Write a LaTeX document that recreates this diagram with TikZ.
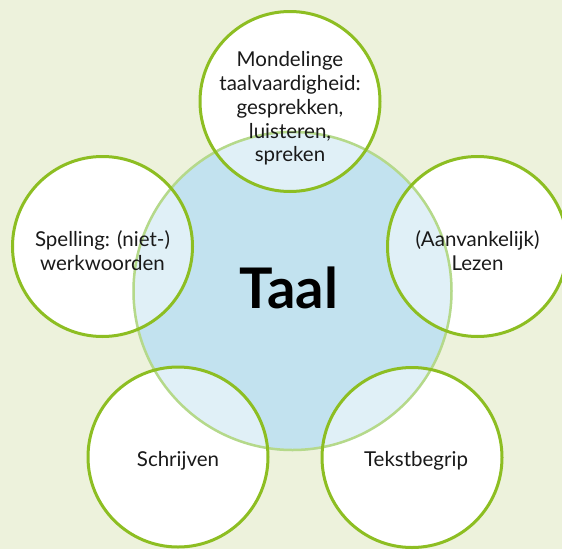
\documentclass[tikz,border=0pt]{standalone}
\usepackage{fontspec}
\setmainfont{Lato}
\definecolor{bgc}{HTML}{EDF2DC}
\definecolor{bluec}{HTML}{C2E2EF}
\definecolor{ringc}{HTML}{8DBE22}
\definecolor{cringc}{HTML}{B5D98A}
\definecolor{txtc}{HTML}{1A1A1A}
\begin{document}
\begin{tikzpicture}[x=1pt,y=-1pt,
  outer/.style={circle,minimum size=181pt,inner sep=0pt,fill=white},
  ring/.style={draw=ringc,line width=3pt},
  lbl/.style={align=center,text=txtc,font=\fontsize{20.5}{23.8}\selectfont},
]
\useasboundingbox (0,0) rectangle (562,549);
\fill[bgc] (0,0) rectangle (562,549);
% outer circles (white fill)
\node[outer] (top) at (290,101.5) {};
\node[outer] (left) at (102.5,246.5) {};
\node[outer] (right) at (477.5,246.5) {};
\node[outer] (bl) at (178,457) {};
\node[outer] (br) at (412,457.5) {};
% central circle
\node[circle,minimum size=320pt,inner sep=0pt,fill=bluec] (taal) at (292.5,291) {};
% translucent white overlap
\foreach \c in {top,left,right,bl,br}{
  \fill[white,opacity=0.5] (\c.center) circle[radius=90.5pt];
}
% central border
\draw[cringc,line width=2.5pt] (taal.center) circle[radius=159pt];
% outer borders
\foreach \c in {top,left,right,bl,br}{
  \draw[ring] (\c.center) circle[radius=90pt];
}
% labels
\node[lbl] (ltop) at ([yshift=-7pt]top.center) {Mondelinge\\taalvaardigheid:\\gesprekken,\\luisteren,\\spreken};
\node[lbl] (lleft) at ([yshift=-4pt]left.center) {Spelling: (niet-)\\werkwoorden};
\node[lbl] (lright) at ([yshift=-4.5pt]right.center) {(Aanvankelijk)\\Lezen};
\node[lbl] (lbl) at ([yshift=-3.5pt]bl.center) {Schrijven};
\node[lbl] (lbr) at ([xshift=4pt,yshift=-3pt]br.center) {Tekstbegrip};
\node[text=black,font=\fontsize{56}{64}\selectfont\bfseries] (ltaal) at (289,288) {Taal};
\end{tikzpicture}
\end{document}
